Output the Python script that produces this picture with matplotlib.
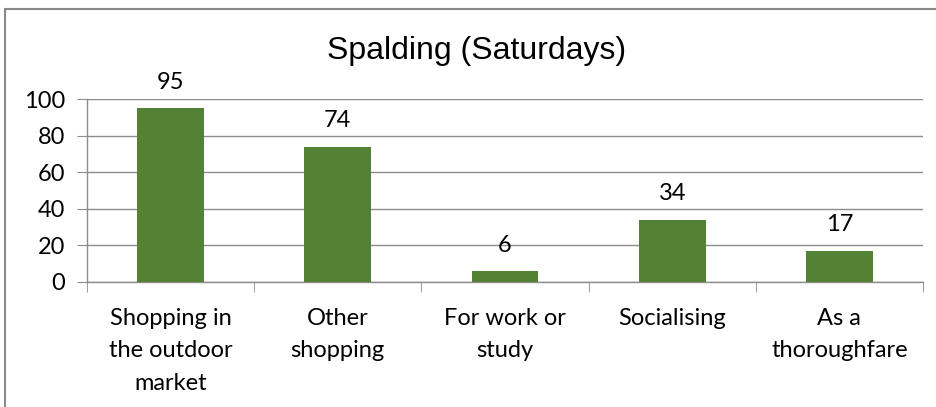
import matplotlib.pyplot as plt
import matplotlib.patches as patches

categorias = ["Shopping in\nthe outdoor\nmarket", "Other\nshopping", "For work or\nstudy", "Socialising", "As a\nthoroughfare"]
valores = [95, 74, 6, 34, 17]
ticks_y = [0, 20, 40, 60, 80, 100]
titulo = "Spalding (Saturdays)"

W, H = 936, 407
fig = plt.figure(figsize=(W / 100, H / 100), dpi=100)

# area do grafico (em pixels da imagem)
ax = fig.add_axes([87 / W, 1 - 282 / H, (923 - 87) / W, (282 - 99) / H])
cinza = "#8c8c8c"

x = list(range(len(valores)))
ax.bar(x, valores, width=0.4, color="#548235", zorder=3)
ax.set_xlim(-0.5, len(valores) - 0.5)
ax.set_ylim(0, 100)
ax.set_yticks(ticks_y)
ax.set_yticklabels([str(t) for t in ticks_y], family="Lato", fontsize=17)
ax.grid(axis="y", color=cinza, linewidth=1, zorder=0)

ax.set_xticks(x)
ax.set_xticklabels(categorias, family="Lato", fontsize=17, linespacing=1.68, va="top")
ax.set_xticks([i - 0.5 for i in range(len(valores) + 1)], minor=True)
ax.tick_params(axis="x", which="major", length=0, pad=18.5)
ax.tick_params(axis="x", which="minor", length=7, color=cinza, direction="out")
ax.tick_params(axis="y", length=7, color=cinza, direction="out", pad=8.5)

for s in ["top", "right"]:
    ax.spines[s].set_visible(False)
for s in ["left", "bottom"]:
    ax.spines[s].set_color(cinza)
    ax.spines[s].set_linewidth(1)

for xi, v in zip(x, valores):
    ax.annotate(str(v), (xi, v), xytext=(0, 14), textcoords="offset points",
                ha="center", va="baseline", family="Lato", fontsize=17)

# titulo do grafico
fig.text(477 / W, 1 - 59 / H, titulo, ha="center", va="baseline",
         family="Liberation Sans", fontsize=23)

# moldura do grafico
moldura = patches.Rectangle((4.5 / W, -0.1), 1.2, 1 - 9 / H + 0.1, transform=fig.transFigure,
                            fill=False, edgecolor="#8a8a8a", linewidth=1.5)
fig.add_artist(moldura)

# cabecalho azul cortado no topo da pagina
fig.text(11 / W, 1 + 4.5 / H, "Spalding (Saturdays)", ha="left", va="baseline",
         family="Lato", fontsize=22, color="#2e74b5")

fig.savefig("out.png", dpi=100)
